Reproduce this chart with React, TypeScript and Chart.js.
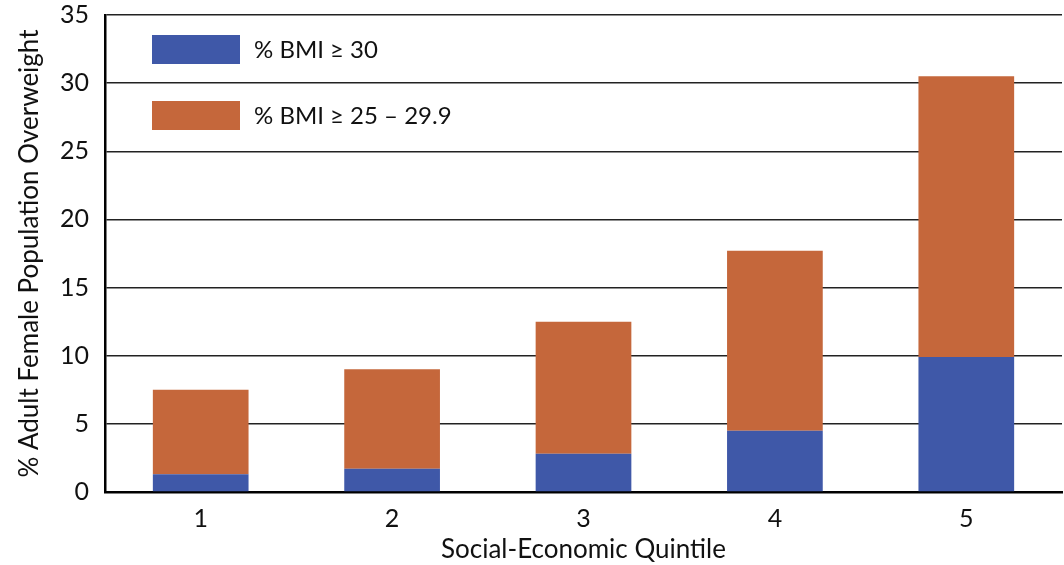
import React, { useEffect, useRef } from "react";
import { Chart, registerables } from "chart.js";

Chart.register(...registerables);

const categories = ["1", "2", "3", "4", "5"];
const obese = [1.3, 1.7, 2.8, 4.5, 9.9];
const overweight = [6.2, 7.3, 9.7, 13.2, 20.6];
const seriesLabels = ["% BMI \u2265 30", "% BMI \u2265 25 \u2013 29.9"];
const seriesColors = ["#3F58A8", "#C5673B"];

const FONT = "Lato, 'Open Sans', 'DejaVu Sans', sans-serif";

const legendPlugin = {
  id: "insideLegend",
  afterDraw(chart: any) {
    const { ctx, chartArea } = chart;
    ctx.save();
    chart.data.datasets.forEach((ds: any, i: number) => {
      const x = chartArea.left + 47;
      const y = chartArea.top + 20 + i * 66;
      ctx.fillStyle = ds.backgroundColor;
      ctx.fillRect(x, y, 88, 29);
      ctx.fillStyle = "#111";
      ctx.font = `24px ${FONT}`;
      ctx.textBaseline = "middle";
      ctx.textAlign = "left";
      ctx.fillText(ds.label, x + 102, y + 15);
    });
    ctx.restore();
  },
};

export default function App() {
  const ref = useRef<HTMLCanvasElement>(null);
  useEffect(() => {
    if (!ref.current) return;
    const chart = new Chart(ref.current, {
      type: "bar",
      data: {
        labels: categories,
        datasets: [
          { label: seriesLabels[0], data: obese, backgroundColor: seriesColors[0] },
          { label: seriesLabels[1], data: overweight, backgroundColor: seriesColors[1] },
        ],
      },
      plugins: [legendPlugin],
      options: {
        animation: false,
        responsive: true,
        maintainAspectRatio: false,
        layout: { padding: { top: 15, right: 2, left: 0, bottom: 0 } },
        datasets: { bar: { barPercentage: 0.5, categoryPercentage: 1 } },
        plugins: { legend: { display: false }, tooltip: { enabled: false } },
        scales: {
          x: {
            stacked: true,
            grid: { display: false, drawTicks: false },
            border: { display: true, color: "#000", width: 2.5 },
            ticks: { color: "#111", font: { family: FONT, size: 25 }, padding: 12 },
            title: {
              display: true,
              text: "Social-Economic Quintile",
              color: "#111",
              font: { family: FONT, size: 26 },
              padding: { top: 0, bottom: 0 },
            },
            afterFit: (s: any) => {
              s.height = 73;
              s.paddingLeft = 0;
              s.paddingRight = 0;
            },
          },
          y: {
            stacked: true,
            min: 0,
            max: 35,
            ticks: { stepSize: 5, color: "#111", font: { family: FONT, size: 25 }, padding: 16 },
            grid: { color: "#222", lineWidth: 1.5, drawTicks: false },
            border: { display: true, color: "#000", width: 2.5 },
            title: {
              display: true,
              text: "% Adult Female Population Overweight",
              color: "#111",
              font: { family: FONT, size: 26 },
              padding: { top: 14, bottom: 0 },
            },
            afterFit: (s: any) => {
              s.width = 105;
              s.paddingTop = 0;
              s.paddingBottom = 0;
            },
          },
        },
      },
    });
    return () => chart.destroy();
  }, []);
  return (
    <div style={{ position: "fixed", left: 0, top: 0, width: 1064, height: 565, background: "#fff" }}>
      <canvas ref={ref} />
    </div>
  );
}
